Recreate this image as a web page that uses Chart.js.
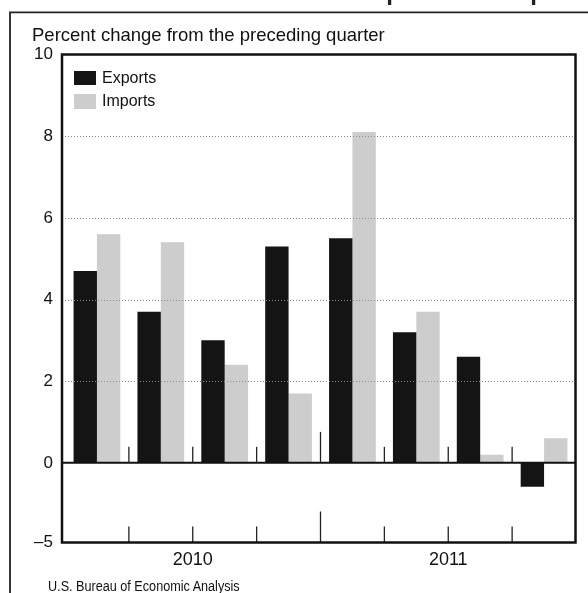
<!DOCTYPE html>
<html>
<head>
<meta charset="utf-8">
<script src="https://cdn.jsdelivr.net/npm/chart.js@4.4.0/dist/chart.umd.min.js"></script>
<style>
  html, body { margin: 0; padding: 0; background: #fff; }
  #wrap { position: relative; width: 588px; height: 593px; overflow: hidden; background: #fff; }
  #c { position: absolute; left: 0; top: 0; }
  .txt { position: absolute; white-space: nowrap; color: #111; font-family: 'Liberation Sans', Arial, Helvetica, sans-serif; }
  #title { left: 357px; top: -20.5px; font-size: 24px; line-height: 24px; font-weight: bold; color: #222; }
  #ylab { left: 32px; top: 25.5px; font-size: 18.5px; line-height: 18.5px; }
  #source { left: 48px; top: 577.5px; font-size: 15.5px; line-height: 15.5px; transform: scaleX(0.815); transform-origin: 0 0; }
  .lgbox { position: absolute; width: 22px; height: 14.5px; }
  .lgtxt { position: absolute; font-size: 16px; line-height: 16px; }
</style>
</head>
<body>
<div id="wrap">
  <canvas id="c" width="588" height="593"></canvas>
  <div class="txt" id="title">Exports and Imports</div>
  <div class="txt" id="ylab">Percent change from the preceding quarter</div>
  <div class="txt" id="source">U.S. Bureau of Economic Analysis</div>
  <div id="legend"></div>
</div>
<script>
// ---- data ----
const quarters = ['2010 Q1', '2010 Q2', '2010 Q3', '2010 Q4', '2011 Q1', '2011 Q2', '2011 Q3', '2011 Q4'];
const years = ['2010', '2011'];
const exportsPct = [4.7, 3.7, 3.0, 5.3, 5.5, 3.2, 2.6, -1.5];
const importsPct = [5.6, 5.4, 2.4, 1.7, 8.1, 3.7, 0.2, 0.6];
const seriesNames = ['Exports', 'Imports'];
const yTickValues = [-5, 0, 2, 4, 6, 8, 10];
const yTickLabels = ['\u20135', '0', '2', '4', '6', '8', '10'];

const seriesColors = ['#141414', '#cdcdcd'];

// ---- y scale whose negative part is compressed (as in the original) ----
const NEG_SCALE = 0.39;
const warp = v => (v < 0 ? v * NEG_SCALE : v);
const unwarp = t => (t < 0 ? t / NEG_SCALE : t);
class BrokenLinearScale extends Chart.LinearScale {
  getPixelForValue(value) {
    if (value === null || value === undefined || isNaN(value)) return NaN;
    const a = warp(this.min), b = warp(this.max);
    return this.getPixelForDecimal((warp(value) - a) / (b - a));
  }
  getValueForPixel(pixel) {
    const a = warp(this.min), b = warp(this.max);
    return unwarp(a + this.getDecimalForPixel(pixel) * (b - a));
  }
}
BrokenLinearScale.id = 'brokenLinear';
BrokenLinearScale.defaults = Chart.LinearScale.defaults;
Chart.register(BrokenLinearScale);

const FONT = "'Liberation Sans', Arial, Helvetica, sans-serif";

const decor = {
  id: 'decor',
  afterDatasetsDraw(chart) {
    const ctx = chart.ctx;
    const ca = chart.chartArea;
    const xs = chart.scales.x, ys = chart.scales.y;
    const fl = ca.left - 3, fr = ca.right - 0.5;
    ctx.save();
    // dotted grid lines
    ctx.strokeStyle = '#8a8a8a';
    ctx.lineWidth = 1;
    ctx.setLineDash([1, 2]);
    ys.ticks.forEach(t => {
      if (t.value === 0 || t.value === ys.min || t.value === ys.max) return;
      const y = Math.round(ys.getPixelForValue(t.value)) + 0.5;
      ctx.beginPath(); ctx.moveTo(fl, y); ctx.lineTo(fr, y); ctx.stroke();
    });
    ctx.setLineDash([]);
    // zero line
    const y0 = ys.getPixelForValue(0);
    ctx.strokeStyle = '#111';
    ctx.lineWidth = 2;
    ctx.beginPath(); ctx.moveTo(fl, y0); ctx.lineTo(fr, y0); ctx.stroke();
    // quarter separator ticks
    ctx.lineWidth = 1.3;
    ctx.strokeStyle = '#222';
    for (let i = 0; i < quarters.length - 1; i++) {
      const bx = (xs.getPixelForValue(i) + xs.getPixelForValue(i + 1)) / 2;
      const len = ((i + 1) % 4 === 0) ? 31 : 16;
      [y0, ca.bottom].forEach(yb => {
        ctx.beginPath(); ctx.moveTo(bx, yb); ctx.lineTo(bx, yb - len); ctx.stroke();
      });
    }
    // plot frame
    ctx.lineWidth = 2.5;
    ctx.strokeStyle = '#111';
    ctx.strokeRect(fl, ca.top, fr - fl, ca.bottom - ca.top);
    // outer panel frame
    ctx.lineWidth = 1.8;
    ctx.strokeStyle = '#222';
    ctx.beginPath();
    ctx.moveTo(10, chart.height + 2); ctx.lineTo(10, 12.3); ctx.lineTo(chart.width + 2, 12.3);
    ctx.stroke();
    ctx.restore();
  }
};

const chart = new Chart(document.getElementById('c'), {
  type: 'bar',
  data: {
    labels: quarters,
    datasets: [
      { label: seriesNames[0], data: exportsPct, backgroundColor: seriesColors[0], borderWidth: 0 },
      { label: seriesNames[1], data: importsPct, backgroundColor: seriesColors[1], borderWidth: 0 }
    ]
  },
  options: {
    responsive: false,
    animation: false,
    devicePixelRatio: 1,
    categoryPercentage: 0.732,
    barPercentage: 1.0,
    layout: { padding: { left: 0, right: 12, top: 54.5, bottom: 20.5 } },
    plugins: { legend: { display: false }, tooltip: { enabled: false }, title: { display: false } },
    scales: {
      x: {
        type: 'category',
        display: false,
        grid: { display: false }
      },
      x2: {
        type: 'category',
        labels: years,
        position: 'bottom',
        offset: true,
        grid: { display: false, drawTicks: false },
        border: { display: false },
        ticks: { color: '#111', font: { family: FONT, size: 18 }, padding: 7, maxRotation: 0, autoSkip: false },
        afterFit(s) { s.height = 30; }
      },
      y: {
        type: 'brokenLinear',
        min: -5,
        max: 10,
        grid: { display: false, drawTicks: false },
        border: { display: false },
        afterBuildTicks(s) { s.ticks = yTickValues.map(v => ({ value: v })); },
        afterFit(s) { s.width = 65; },
        ticks: {
          color: '#111',
          font: { family: FONT, size: 17 },
          padding: 12,
          callback: (v, i) => yTickLabels[i]
        }
      }
    }
  },
  plugins: [decor]
});

// legend built from the chart's datasets
const lg = document.getElementById('legend');
chart.data.datasets.forEach((ds, i) => {
  const box = document.createElement('div');
  box.className = 'lgbox';
  box.style.left = '74px';
  box.style.top = (70.7 + i * 23.3) + 'px';
  box.style.background = ds.backgroundColor;
  lg.appendChild(box);
  const t = document.createElement('div');
  t.className = 'txt lgtxt';
  t.style.left = '102px';
  t.style.top = (69.75 + i * 23.3) + 'px';
  t.textContent = ds.label;
  lg.appendChild(t);
});
</script>
</body>
</html>
